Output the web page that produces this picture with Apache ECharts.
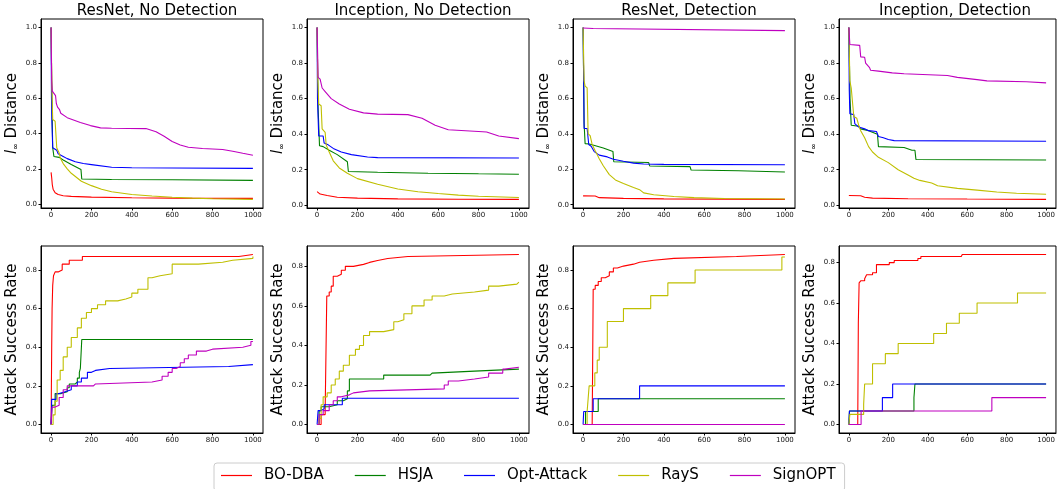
<!DOCTYPE html>
<html>
<head>
<meta charset="utf-8">
<script src="https://cdn.jsdelivr.net/npm/echarts@6/dist/echarts.min.js"></script>
<style>
html,body{margin:0;padding:0;background:#fff;}
#chart{width:1058px;height:489px;}
</style>
</head>
<body>
<div id="chart"></div>
<script>
// ---------- labels ----------
const panelTitles = ['ResNet, No Detection', 'Inception, No Detection', 'ResNet, Detection', 'Inception, Detection'];
const methods = ['BO-DBA', 'HSJA', 'Opt-Attack', 'RayS', 'SignOPT'];
const xTicks = [0, 200, 400, 600, 800, 1000];
const distTicks = [0, 0.2, 0.4, 0.6, 0.8, 1.0];
const asrTicks = [0, 0.2, 0.4, 0.6, 0.8];

// ---------- l_inf distance, ResNet, No Detection ----------
const distRNND_BODBA = [[0,0.18],[3,0.15],[6,0.11],[10,0.085],[20,0.065],[35,0.055],[60,0.048],[100,0.044],[200,0.04],[400,0.036],[600,0.034],[1000,0.033]];
const distRNND_HSJA = [[0,1.0],[4,0.6],[8,0.32],[14,0.27],[40,0.265],[60,0.25],[100,0.225],[148,0.196],[152,0.143],[300,0.14],[600,0.138],[1000,0.135]];
const distRNND_Opt = [[0,1.0],[2,0.6],[4,0.47],[8,0.32],[12,0.31],[28,0.305],[35,0.285],[60,0.27],[80,0.258],[120,0.24],[160,0.23],[200,0.224],[300,0.209],[400,0.206],[600,0.205],[1000,0.203]];
const distRNND_RayS = [[0,1.0],[4,0.65],[8,0.48],[20,0.47],[24,0.46],[28,0.32],[40,0.29],[46,0.26],[60,0.23],[80,0.2],[100,0.175],[150,0.13],[200,0.105],[250,0.085],[300,0.07],[400,0.055],[500,0.046],[600,0.039],[700,0.034],[800,0.031],[1000,0.027]];
const distRNND_SignOPT = [[0,1.0],[3,0.7],[6,0.64],[15,0.63],[22,0.615],[26,0.57],[32,0.55],[42,0.535],[48,0.515],[80,0.49],[145,0.463],[195,0.445],[245,0.432],[300,0.43],[470,0.428],[520,0.41],[560,0.385],[600,0.355],[640,0.335],[680,0.322],[750,0.315],[850,0.31],[900,0.3],[950,0.288],[1000,0.277]];

// ---------- l_inf distance, Inception, No Detection ----------
const distINND_BODBA = [[0,0.077],[5,0.07],[15,0.063],[50,0.055],[100,0.045],[200,0.04],[400,0.036],[700,0.034],[1000,0.033]];
const distINND_HSJA = [[0,1.0],[5,0.55],[12,0.335],[30,0.33],[60,0.31],[100,0.285],[150,0.245],[155,0.19],[300,0.186],[550,0.18],[800,0.177],[1000,0.175]];
const distINND_Opt = [[0,1.0],[2,0.6],[8,0.39],[30,0.39],[35,0.35],[55,0.34],[80,0.32],[120,0.3],[170,0.285],[250,0.272],[300,0.268],[1000,0.266]];
const distINND_RayS = [[0,1.0],[3,0.73],[8,0.57],[20,0.56],[25,0.43],[40,0.41],[45,0.34],[60,0.3],[80,0.25],[110,0.21],[150,0.18],[200,0.15],[300,0.118],[400,0.092],[500,0.076],[600,0.066],[700,0.057],[800,0.051],[1000,0.044]];
const distINND_SignOPT = [[0,1.0],[5,0.72],[15,0.71],[25,0.66],[40,0.64],[70,0.6],[110,0.57],[160,0.54],[230,0.52],[300,0.513],[450,0.51],[520,0.49],[585,0.45],[650,0.425],[800,0.415],[840,0.412],[900,0.39],[1000,0.375]];

// ---------- l_inf distance, ResNet, Detection ----------
const distRND_BODBA = [[0,0.05],[60,0.049],[80,0.04],[200,0.036],[400,0.033],[1000,0.03]];
const distRND_HSJA = [[0,1.0],[5,0.46],[10,0.345],[30,0.343],[40,0.34],[100,0.32],[148,0.3],[152,0.243],[325,0.238],[330,0.219],[530,0.215],[535,0.196],[770,0.192],[775,0.185],[1000,0.185]];
const distRND_Opt = [[0,1.0],[3,0.7],[5,0.43],[20,0.43],[28,0.34],[40,0.33],[55,0.3],[80,0.28],[120,0.27],[150,0.257],[200,0.245],[250,0.235],[300,0.23],[400,0.228],[1000,0.226]];
const distRND_RayS = [[0,1.0],[5,0.7],[10,0.67],[20,0.66],[25,0.4],[35,0.39],[45,0.34],[60,0.305],[80,0.26],[100,0.22],[130,0.17],[160,0.14],[200,0.12],[250,0.097],[280,0.085],[300,0.067],[350,0.056],[450,0.046],[550,0.04],[700,0.035],[1000,0.032]];
const distRND_SignOPT = [[0,0.998],[50,0.995],[55,0.985],[1000,0.983]];

// ---------- l_inf distance, Inception, Detection ----------
const distIND_BODBA = [[0,0.055],[60,0.054],[80,0.045],[120,0.04],[300,0.037],[600,0.035],[1000,0.033]];
const distIND_HSJA = [[0,1.0],[6,0.6],[12,0.45],[50,0.445],[60,0.43],[100,0.42],[145,0.4],[150,0.33],[280,0.325],[320,0.31],[335,0.31],[340,0.258],[1000,0.255]];
const distIND_Opt = [[0,1.0],[2,0.65],[5,0.515],[25,0.51],[30,0.46],[50,0.44],[80,0.43],[100,0.42],[140,0.415],[150,0.387],[175,0.38],[200,0.37],[230,0.364],[1000,0.36]];
const distIND_RayS = [[0,1.0],[5,0.7],[12,0.66],[25,0.5],[40,0.49],[50,0.45],[60,0.42],[80,0.38],[100,0.33],[120,0.3],[150,0.27],[200,0.24],[250,0.2],[300,0.17],[330,0.152],[360,0.14],[420,0.125],[450,0.11],[550,0.095],[650,0.085],[750,0.075],[850,0.068],[1000,0.062]];
const distIND_SignOPT = [[0,1.0],[5,0.905],[55,0.9],[60,0.835],[80,0.833],[85,0.8],[95,0.79],[105,0.775],[110,0.76],[150,0.755],[220,0.745],[280,0.74],[290,0.733],[500,0.73],[550,0.72],[650,0.707],[700,0.7],[900,0.695],[1000,0.689]];

// ---------- attack success rate, ResNet, No Detection ----------
const asrRNND_BODBA = [[0,0],[3,0.4],[5,0.6],[8,0.72],[12,0.77],[20,0.79],[35,0.8],[55,0.83],[90,0.85],[155,0.87],[930,0.88],[1000,0.88]];
const asrRNND_HSJA = [[0,0],[5,0.1],[20,0.16],[50,0.17],[80,0.19],[90,0.21],[120,0.22],[130,0.24],[140,0.27],[145,0.29],[152,0.44],[1000,0.44]];
const asrRNND_Opt = [[0,0],[3,0.13],[25,0.16],[40,0.17],[70,0.18],[100,0.2],[130,0.22],[150,0.24],[180,0.27],[200,0.28],[220,0.29],[290,0.3],[880,0.31],[1000,0.31]];
const asrRNND_RayS = [[0,0],[10,0.05],[20,0.12],[30,0.23],[45,0.28],[60,0.35],[80,0.4],[100,0.45],[130,0.5],[150,0.55],[175,0.58],[200,0.6],[230,0.62],[270,0.64],[330,0.65],[370,0.66],[400,0.68],[430,0.7],[480,0.76],[500,0.77],[540,0.78],[600,0.83],[730,0.84],[850,0.85],[900,0.86],[1000,0.87]];
const asrRNND_SignOPT = [[0,0],[5,0.09],[20,0.1],[40,0.14],[60,0.18],[80,0.2],[210,0.21],[220,0.22],[500,0.23],[550,0.25],[580,0.27],[600,0.29],[620,0.3],[640,0.32],[660,0.34],[680,0.36],[720,0.38],[770,0.39],[800,0.4],[950,0.41],[990,0.43],[1000,0.43]];

// ---------- attack success rate, Inception, No Detection ----------
const asrINND_BODBA = [[0,0],[20,0.05],[40,0.07],[48,0.65],[60,0.67],[70,0.7],[80,0.75],[100,0.76],[120,0.78],[140,0.8],[180,0.81],[230,0.82],[260,0.83],[300,0.84],[350,0.85],[450,0.86],[1000,0.86]];
const asrINND_HSJA = [[0,0],[10,0.07],[20,0.09],[60,0.1],[100,0.12],[130,0.13],[150,0.17],[160,0.23],[330,0.25],[560,0.26],[570,0.27],[780,0.28],[1000,0.28]];
const asrINND_Opt = [[0,0],[5,0.07],[20,0.08],[35,0.1],[125,0.133],[1000,0.133]];
const asrINND_RayS = [[0,0],[10,0.03],[20,0.1],[30,0.14],[50,0.16],[70,0.2],[90,0.23],[110,0.27],[130,0.3],[160,0.35],[190,0.38],[210,0.4],[230,0.45],[260,0.47],[330,0.48],[380,0.52],[400,0.53],[430,0.56],[470,0.6],[530,0.63],[570,0.65],[630,0.66],[670,0.67],[780,0.68],[850,0.7],[900,0.71],[990,0.72],[1000,0.72]];
const asrINND_SignOPT = [[0,0],[10,0.05],[30,0.07],[60,0.1],[80,0.12],[100,0.14],[120,0.15],[160,0.16],[180,0.17],[260,0.18],[630,0.2],[650,0.22],[700,0.23],[780,0.24],[850,0.26],[920,0.28],[930,0.29],[1000,0.29]];

// ---------- attack success rate, ResNet, Detection ----------
const asrRND_BODBA = [[0,0],[45,0],[48,0.4],[50,0.7],[60,0.72],[75,0.74],[90,0.76],[110,0.77],[130,0.79],[150,0.81],[170,0.82],[200,0.83],[250,0.84],[280,0.85],[350,0.86],[450,0.87],[760,0.88],[1000,0.88]];
const asrRND_HSJA = [[0,0],[12,0.067],[75,0.133],[1000,0.133]];
const asrRND_Opt = [[0,0],[3,0.067],[50,0.133],[280,0.2],[1000,0.2]];
const asrRND_RayS = [[0,0],[20,0.067],[25,0.133],[30,0.2],[58,0.267],[70,0.333],[80,0.4],[120,0.533],[200,0.6],[335,0.667],[420,0.733],[555,0.8],[985,0.867],[1000,0.867]];
const asrRND_SignOPT = [[0,0],[1000,0]];

// ---------- attack success rate, Inception, Detection ----------
const asrIND_BODBA = [[0,0],[45,0],[48,0.5],[52,0.7],[60,0.71],[80,0.72],[90,0.74],[120,0.75],[140,0.79],[205,0.8],[230,0.81],[350,0.82],[365,0.83],[570,0.835],[575,0.84],[1000,0.84]];
const asrIND_HSJA = [[0,0],[3,0.067],[330,0.133],[335,0.2],[1000,0.2]];
const asrIND_Opt = [[0,0],[3,0.067],[170,0.133],[222,0.2],[1000,0.2]];
const asrIND_RayS = [[0,0],[5,0.05],[75,0.1],[80,0.2],[120,0.3],[185,0.35],[250,0.4],[430,0.45],[495,0.5],[560,0.55],[650,0.6],[855,0.65],[1000,0.65]];
const asrIND_SignOPT = [[0,0],[62,0.067],[725,0.133],[1000,0.133]];

// ---------- assembly ----------
const distPanels = [
  [distRNND_BODBA, distRNND_HSJA, distRNND_Opt, distRNND_RayS, distRNND_SignOPT],
  [distINND_BODBA, distINND_HSJA, distINND_Opt, distINND_RayS, distINND_SignOPT],
  [distRND_BODBA, distRND_HSJA, distRND_Opt, distRND_RayS, distRND_SignOPT],
  [distIND_BODBA, distIND_HSJA, distIND_Opt, distIND_RayS, distIND_SignOPT]
];
const asrPanels = [
  [asrRNND_BODBA, asrRNND_HSJA, asrRNND_Opt, asrRNND_RayS, asrRNND_SignOPT],
  [asrINND_BODBA, asrINND_HSJA, asrINND_Opt, asrINND_RayS, asrINND_SignOPT],
  [asrRND_BODBA, asrRND_HSJA, asrRND_Opt, asrRND_RayS, asrRND_SignOPT],
  [asrIND_BODBA, asrIND_HSJA, asrIND_Opt, asrIND_RayS, asrIND_SignOPT]
];

const colors = ['#ff0000', '#008000', '#0000ff', '#bfbf00', '#bf00bf'];
const FONT = '"DejaVu Sans", sans-serif';
const colLeft = [41, 307, 573, 839];
const gridW = 222;
const rowTop = [19, 246];
const rowH = [189, 187];

function range(sets) {
  let lo = Infinity, hi = -Infinity;
  sets.forEach(s => s.forEach(p => { lo = Math.min(lo, p[1]); hi = Math.max(hi, p[1]); }));
  const m = (hi - lo) * 0.05;
  return [lo - m, hi + m];
}

const grid = [], xAxis = [], yAxis = [], series = [], title = [];
let gi = 0;
[distPanels, asrPanels].forEach((panels, row) => {
  panels.forEach((sets, col) => {
    grid.push({ left: colLeft[col], top: rowTop[row], width: gridW, height: rowH[row],
      show: true, borderColor: '#000', borderWidth: 1, backgroundColor: 'transparent' });
    xAxis.push({ type: 'value', gridIndex: gi, min: -50, max: 1050,
      axisLine: { onZero: false, lineStyle: { color: '#000', width: 1 } },
      axisTick: { show: true, length: 2.5, customValues: xTicks, lineStyle: { color: '#000' } },
      axisLabel: { customValues: xTicks, fontSize: 7, color: '#111', fontFamily: FONT, margin: 4,
        formatter: v => String(v) },
      splitLine: { show: false } });
    const r = range(sets);
    const ticks = row === 0 ? distTicks : asrTicks;
    yAxis.push({ type: 'value', gridIndex: gi, min: r[0], max: r[1],
      axisLine: { onZero: false, lineStyle: { color: '#000', width: 1 } },
      axisTick: { show: true, length: 2.5, customValues: ticks, lineStyle: { color: '#000' } },
      axisLabel: { customValues: ticks, fontSize: 7, color: '#111', fontFamily: FONT, margin: 4,
        formatter: v => v.toFixed(1) },
      splitLine: { show: false },
      name: row === 0 ? '{i|l}{s|∞} Distance' : 'Attack Success Rate',
      nameLocation: 'middle', nameRotate: 90, nameGap: 21,
      nameTextStyle: { fontSize: 15, fontFamily: FONT, color: '#000',
        rich: {
          i: { fontSize: 15, fontStyle: 'italic', fontFamily: FONT, color: '#000' },
          s: { fontSize: 8, fontFamily: FONT, color: '#000', padding: [8, 0, 0, 0] }
        } } });
    sets.forEach((data, k) => {
      series.push({ type: 'line', name: methods[k], xAxisIndex: gi, yAxisIndex: gi, data: data,
        step: row === 1 ? 'end' : false, symbol: 'none', showSymbol: false,
        lineStyle: { color: colors[k], width: 1.1 }, itemStyle: { color: colors[k] },
        silent: true, animation: false });
    });
    if (row === 0) {
      title.push({ text: panelTitles[col], left: colLeft[col] + gridW / 2, top: -1, textAlign: 'center',
        textStyle: { fontSize: 15, fontWeight: 'normal', fontFamily: FONT, color: '#000' } });
    }
    gi++;
  });
});

const chart = echarts.init(document.getElementById('chart'), null, { renderer: 'canvas' });
chart.setOption({
  animation: false,
  backgroundColor: '#fff',
  title: title,
  grid: grid, xAxis: xAxis, yAxis: yAxis, series: series,
  legend: {
    data: methods.map((m, k) => ({ name: m, icon: 'rect', itemStyle: { color: colors[k] } })),
    left: 214, top: 463, orient: 'horizontal',
    itemWidth: 31, itemHeight: 1.2, itemGap: 31,
    padding: [5, 9, 8, 7],
    borderColor: '#cccccc', borderWidth: 1, borderRadius: 3, backgroundColor: '#fff',
    textStyle: { fontSize: 15, fontFamily: FONT, color: '#000', padding: [0, 0, 0, 7] }
  }
});
</script>
</body>
</html>
